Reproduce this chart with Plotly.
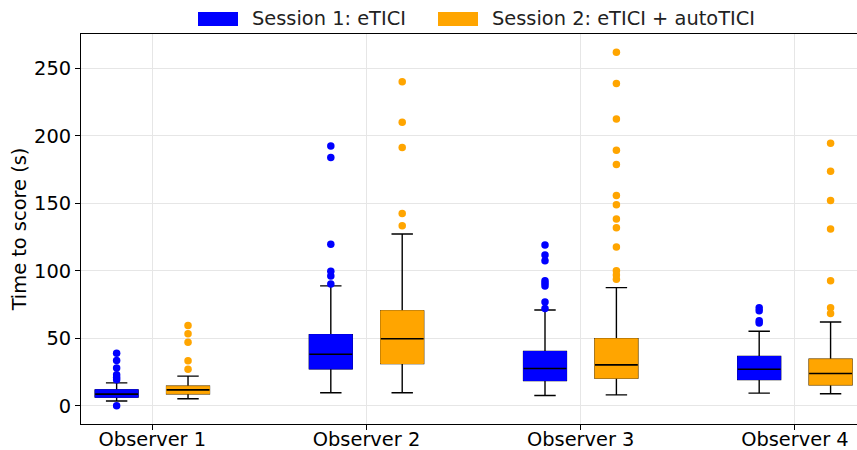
import plotly.graph_objects as go

observers = ["Observer 1", "Observer 2", "Observer 3", "Observer 4"]
positions = [0, 1, 2, 3]

# Session 1: eTICI
s1_q1 = [6.4, 27.4, 18.7, 19.5]
s1_med = [8.6, 38.2, 27.6, 27.1]
s1_q3 = [11.8, 52.7, 40.2, 36.5]
s1_lo = [3.5, 9.6, 7.6, 9.4]
s1_hi = [17.0, 88.8, 71.0, 55.2]
s1_out = [
    [0.0, 19.2, 21.0, 23.0, 28.0, 33.5, 39.0],
    [90.2, 96.2, 99.6, 119.6, 183.9, 192.5],
    [72.0, 76.9, 88.8, 90.7, 92.7, 107.5, 111.7, 119.1],
    [61.4, 62.9, 70.3, 72.7],
]

# Session 2: eTICI + autoTICI
s2_q1 = [8.9, 31.3, 20.5, 15.5]
s2_med = [11.8, 49.6, 30.3, 23.9]
s2_q3 = [14.5, 70.3, 49.6, 34.5]
s2_lo = [5.2, 9.6, 8.1, 8.9]
s2_hi = [22.0, 127.2, 87.5, 62.1]
s2_out = [
    [27.1, 33.3, 47.1, 53.3, 59.4],
    [133.4, 142.5, 191.3, 210.0, 240.1],
    [93.7, 96.9, 100.1, 117.6, 131.9, 138.3, 148.9, 155.8, 178.8, 189.3, 212.5, 238.7, 261.8],
    [68.3, 72.7, 92.7, 130.9, 152.1, 173.8, 194.5],
]

series_names = ["Session 1: eTICI", "Session 2: eTICI + autoTICI"]
series_colors = ["#0000ff", "#ffa500"]

series = [
    dict(name=series_names[0], color=series_colors[0], offset=-1/6,
         q1=s1_q1, med=s1_med, q3=s1_q3, lo=s1_lo, hi=s1_hi, out=s1_out),
    dict(name=series_names[1], color=series_colors[1], offset=1/6,
         q1=s2_q1, med=s2_med, q3=s2_q3, lo=s2_lo, hi=s2_hi, out=s2_out),
]

FONT = "DejaVu Sans"
FS = 19.4
BW = 0.2
LW = 1.4

W, H = 857, 450
ML, MR, MT, MB = 81, 0, 34, 26
PW, PH = W - ML - MR, H - MT - MB

fig = go.Figure()
for s in series:
    xs = [p + s["offset"] for p in positions]
    # whiskers + caps (black)
    fig.add_trace(go.Box(
        x=xs, q1=s["q1"], median=s["med"], q3=s["q3"],
        lowerfence=s["lo"], upperfence=s["hi"],
        width=BW, whiskerwidth=0.5, boxpoints=False,
        fillcolor=s["color"], line=dict(color="black", width=LW),
        showlegend=False, hoverinfo="skip",
    ))
    # box body (same colour edge)
    fig.add_trace(go.Box(
        x=xs, q1=s["q1"], median=s["q1"], q3=s["q3"],
        lowerfence=s["q1"], upperfence=s["q3"],
        width=BW, whiskerwidth=0, boxpoints=False,
        fillcolor=s["color"], line=dict(color=s["color"], width=1),
        name=s["name"], showlegend=False,
    ))
    # median line (black)
    fig.add_trace(go.Box(
        x=xs, q1=s["med"], median=s["med"], q3=s["med"],
        lowerfence=s["med"], upperfence=s["med"],
        width=BW, whiskerwidth=0, boxpoints=False,
        fillcolor="rgba(0,0,0,0)", line=dict(color="black", width=1.6),
        showlegend=False, hoverinfo="skip",
    ))

for s in series:
    ox, oy = [], []
    for p, vals in zip(positions, s["out"]):
        for v in vals:
            ox.append(p + s["offset"])
            oy.append(v)
    fig.add_trace(go.Scatter(
        x=ox, y=oy, mode="markers",
        marker=dict(color=s["color"], size=7.5, line=dict(width=0)),
        showlegend=False, name=s["name"],
    ))

# matplotlib-style legend (patches + labels) above the axes
def px_x(px):
    return (px - ML) / PW

def px_y(py):
    return (H - MB - py) / PH

legend_patch_left = [198, 438]
shapes, annotations = [], []
for name, color, left in zip(series_names, series_colors, legend_patch_left):
    shapes.append(dict(type="rect", xref="paper", yref="paper",
                       x0=px_x(left), x1=px_x(left + 40), y0=px_y(26), y1=px_y(12),
                       fillcolor=color, line=dict(width=0), layer="above"))
    annotations.append(dict(text=name, xref="paper", yref="paper",
                            x=px_x(left + 52), y=px_y(19), xanchor="left", yanchor="middle",
                            showarrow=False, font=dict(family=FONT, size=FS, color="#222222")))

fig.update_layout(
    width=W, height=H,
    margin=dict(l=ML, r=MR, t=MT, b=MB, autoexpand=False),
    plot_bgcolor="white", paper_bgcolor="white",
    boxmode="overlay",
    showlegend=False,
    shapes=shapes, annotations=annotations,
    font=dict(family=FONT, size=FS, color="black"),
    xaxis=dict(
        range=[-0.333, 3.29], tickvals=positions, ticktext=observers,
        showgrid=True, gridcolor="#e6e6e6", gridwidth=1,
        showline=True, linecolor="black", linewidth=1.1, mirror=True,
        ticks="outside", ticklen=5, tickcolor="black", zeroline=False,
        tickfont=dict(family=FONT, size=FS), ticklabelstandoff=-7,
    ),
    yaxis=dict(
        range=[-13.5, 275.4], tickvals=[0, 50, 100, 150, 200, 250],
        showgrid=True, gridcolor="#e6e6e6", gridwidth=1,
        showline=True, linecolor="black", linewidth=1.1,
        ticks="outside", ticklen=5, tickcolor="black", zeroline=False,
        tickfont=dict(family=FONT, size=FS),
        title=dict(text="Time to score (s)", font=dict(family=FONT, size=FS), standoff=2),
    ),
)

fig.write_html("out.html")
